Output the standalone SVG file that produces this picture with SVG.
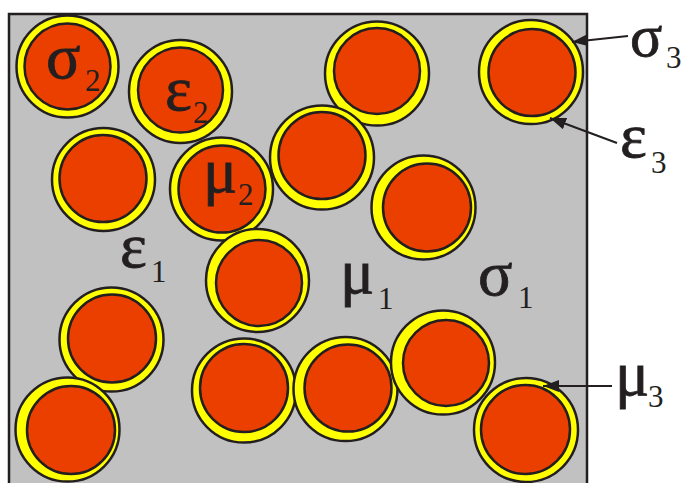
<svg xmlns="http://www.w3.org/2000/svg" width="684" height="483" viewBox="0 0 684 483">
<style>
.bg{fill:#c1c1c1;stroke:#231f20;stroke-width:2.5}
.shell{fill:#ffff00;stroke:#231f20;stroke-width:2.5}
.core{fill:#eb3f00;stroke:#231f20;stroke-width:2.5}
.g{font-family:"Liberation Serif","DejaVu Serif",serif;font-size:64px;fill:#231f20;stroke:#231f20;stroke-width:0.8}
.s{font-size:31px;stroke:none}
.arr{stroke:#231f20;stroke-width:2;fill:none}
</style>
<defs>
<marker id="ah" viewBox="0 0 16 12" refX="16" refY="6" markerWidth="16" markerHeight="12" markerUnits="userSpaceOnUse" orient="auto">
<path d="M0,0 L16,6 L0,12 z" fill="#231f20"/>
</marker>
</defs>
<rect class="bg" x="9" y="14" width="578" height="480"/>
<g id="p1"><circle class="shell" cx="67.5" cy="66.5" r="51"/><circle class="core" cx="67.5" cy="66.5" r="43"/></g>
<g id="p2"><circle class="shell" cx="180.5" cy="91.5" r="51.5"/><circle class="core" cx="180.5" cy="90" r="42.5"/></g>
<g id="p3"><circle class="shell" cx="103.5" cy="179.5" r="51.5"/><circle class="core" cx="103" cy="178.5" r="43.5"/></g>
<g id="p4"><circle class="shell" cx="221.5" cy="189" r="51.5"/><circle class="core" cx="222" cy="189" r="43.5"/></g>
<g id="p5"><circle class="shell" cx="377" cy="73.5" r="52"/><circle class="core" cx="377" cy="71" r="43"/></g>
<g id="p6"><circle class="shell" cx="322" cy="157.5" r="52"/><circle class="core" cx="322" cy="155.5" r="43.5"/></g>
<g id="p7"><circle class="shell" cx="423.5" cy="207.5" r="52"/><circle class="core" cx="427" cy="207.5" r="44"/></g>
<g id="p8"><circle class="shell" cx="531" cy="72" r="52"/><circle class="core" cx="532" cy="72.5" r="43.5"/></g>
<g id="p9"><circle class="shell" cx="257.5" cy="280.5" r="51.5"/><circle class="core" cx="259" cy="283" r="43"/></g>
<g id="p10"><circle class="shell" cx="111.5" cy="339.5" r="52"/><circle class="core" cx="112" cy="338.5" r="44"/></g>
<g id="p11"><circle class="shell" cx="67.5" cy="429.5" r="52"/><circle class="core" cx="71" cy="430" r="44"/></g>
<g id="p12"><circle class="shell" cx="244" cy="390.5" r="52"/><circle class="core" cx="244" cy="388" r="44"/></g>
<g id="p13"><circle class="shell" cx="345.5" cy="389" r="52"/><circle class="core" cx="348" cy="388" r="43.5"/></g>
<g id="p14"><circle class="shell" cx="443" cy="362.5" r="52"/><circle class="core" cx="446" cy="363" r="43"/></g>
<g id="p15"><circle class="shell" cx="526" cy="430" r="52"/><circle class="core" cx="525.5" cy="429.5" r="44.5"/></g>
<g id="connectors">
<line class="arr" x1="628" y1="36" x2="572" y2="42" marker-end="url(#ah)"/>
<line class="arr" x1="617" y1="143" x2="550" y2="118" marker-end="url(#ah)"/>
<line class="arr" x1="612" y1="386" x2="543" y2="386" marker-end="url(#ah)"/>
</g>
<g id="labels" class="g">
<text x="46" y="78">σ<tspan class="s" x="85" y="91">2</tspan></text>
<text x="165" y="110">ε<tspan class="s" x="193" y="123">2</tspan></text>
<text x="203" y="192">μ<tspan class="s" x="238" y="205">2</tspan></text>
<text x="120" y="267">ε<tspan class="s" x="151" y="282">1</tspan></text>
<text x="340" y="293">μ<tspan class="s" x="378" y="309">1</tspan></text>
<text x="478" y="295">σ<tspan class="s" x="518" y="308">1</tspan></text>
<text x="630" y="56" style="font-size:60px">σ<tspan class="s" x="666" y="68">3</tspan></text>
<text x="620" y="157">ε<tspan class="s" x="651" y="173">3</tspan></text>
<text x="615" y="395">μ<tspan class="s" x="648" y="407">3</tspan></text>
</g>
</svg>
